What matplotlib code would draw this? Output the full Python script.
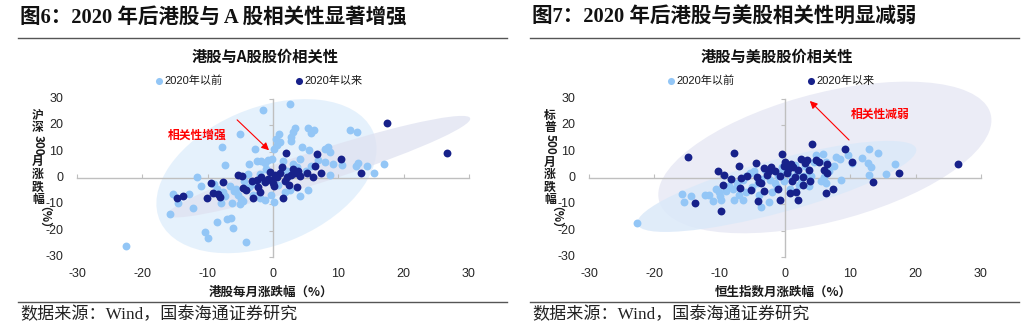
import re
import numpy as np
import matplotlib
matplotlib.use("Agg")
import matplotlib.pyplot as plt
from matplotlib.patches import Ellipse
from matplotlib.lines import Line2D

CJK = ['Noto Sans CJK SC', 'DejaVu Sans']
SERIF = ['Liberation Serif', 'Noto Sans CJK SC']
SANS = ['Liberation Sans', 'Noto Sans CJK SC']
plt.rcParams['font.family'] = CJK
plt.rcParams['axes.unicode_minus'] = False

# ==================================================
# 数据
# ==================================================
titles = ['图6：2020 年后港股与 A 股相关性显著增强', '图7：2020 年后港股与美股相关性明显减弱']
chart_titles = ['港股与A股股价相关性', '港股与美股股价相关性']
xlabels = ['港股每月涨跌幅（%）', '恒生指数月涨跌幅（%）']
ylabels = ['沪深300月涨跌幅（%）', '标普500月涨跌幅（%）']
legend_labels = ['2020年以前', '2020年以来']
notes = ['相关性增强', '相关性减弱']
source = '数据来源：Wind，国泰海通证券研究'
ticks = [-30, -20, -10, 0, 10, 20, 30]

# 图6 2020年以前
a_pre_x = [-22.5, -15.8, -15.3, -14.5, -12.2, -11.6, -10.4, -10.0, -8.6, -7.8, -7.3, -7.0, -6.5, -6.1,
           -8.0, -6.3, -5.0, -4.2, -3.6, -2.8, -1.6, -6.6, -6.0, -5.6, -5.3, -4.9, -4.6, -5.1, -2.5, -1.9,
           -1.2, -0.7, -0.2, -3.0, -2.0, -1.2, 0.6, 0.1, 0.4, 0.9, 1.1, 2.6, 2.7, 3.1, 3.4, 2.8, 5.4, 6.2,
           5.8, 4.4, 5.5, 7.9, 8.4, 8.7, 8.0, 9.2, 10.6, 12.7, 13.0, 14.4, 15.5, 17.0, 8.7, 11.8, 12.9,
           2.6, 4.1, 5.4, -0.3, 0.1, 3.0, 4.2, 5.8, 6.9, 2.2, 3.7, 5.0, 1.5, -3.9, -4.5, -3.2, -2.0, -1.4,
           -8.5, -7.7, -9.1, -11.0, -12.8, -1.0, 0.8, 1.8, -7.4, -3.6]
a_pre_y = [-25.9, -13.5, -6.1, -9.5, -11.3, 0.4, -20.5, -22.6, -16.8, 11.8, 4.9, -15.4, -15.0, -18.8,
           -9.5, -9.6, 16.6, -24.4, 5.3, 11.0, 25.9, -3.0, -4.8, -4.2, -6.5, -7.8, -8.8, -10.0, 6.5, 6.5,
           5.8, 6.8, 7.3, -6.5, -7.5, -8.4, 12.5, 11.0, 15.0, 16.8, 13.8, 28.1, 15.6, 17.5, 18.8, 14.2, 18.8, 18.3,
           17.2, 11.8, 10.8, 11.2, 11.8, 9.9, 6.1, 5.5, 5.0, 4.6, 5.7, 4.6, 1.9, 5.3, 1.1, 18.2, 17.4,
           -4.5, -6.9, -4.5, -6.5, -9.0, 5.5, 7.3, 4.4, 6.8, 2.8, 4.0, 2.5, 6.5, 1.5, -1.2, -2.2, 1.5, -1.0,
           -4.0, -5.2, -2.2, -3.0, -6.2, 3.5, -2.5, -5.5, -7.0, -3.5]
# 图6 2020年以来
a_post_x = [17.4, 26.6, -14.7, -13.8, -10.1, -9.5, -9.2, -8.4, -8.1, -7.6, -5.4, -4.8, -4.6, -4.2, -3.1,
            -2.5, -2.3, -2.0, -1.3, -0.5, -0.3, 0.0, 0.6, 1.0, 1.4, 1.5, 2.0, 2.2, 2.8, 3.4, 3.7, 3.9, 4.2,
            5.2, 6.1, 6.4, 6.7, 7.4, 10.4, 13.4, 0.3, -0.8, 1.8, 2.5, 0.2, -1.8, -3.2, 3.0]
a_post_y = [20.9, 9.5, -7.6, -6.8, -7.6, -1.9, -5.7, -6.1, -7.4, -1.5, 1.1, 0.6, -3.8, -4.6, -7.6,
            -0.8, -3.4, -5.3, -1.5, 2.3, -0.6, -2.0, 0.2, 2.0, 4.2, -7.6, 9.5, 0.3, 1.0, 1.8, -3.4, 2.6, 0.6,
            1.9, 0.4, 4.6, 9.3, 1.9, 7.4, 1.9, 1.0, -0.5, -1.0, -2.8, -3.2, 0.3, -1.0, 3.6]

# 图7 2020年以前
u_pre_x = [-22.6, -15.7, -15.4, -14.4, -12.3, -11.7, -10.1, -10.0, -9.8, -7.8, -6.5, -3.6, -2.5, -9.0,
           -8.6, -8.0, -7.3, -6.5, -5.9, -5.3, -4.8, -6.0, -5.0, -4.2, -3.6, -2.3, -1.6, -1.1, -0.6, -0.1,
           0.4, 1.0, 1.9, 2.4, 2.9, 3.6, 4.4, 4.8, 5.8, 6.3, 6.8, 5.5, 6.2, 7.8, 8.4, 9.6, 10.3, 11.8, 12.8,
           14.2, 12.7, 13.1, 12.8, 15.4, 16.9, -2.0, -1.2, 0.8, -4.0, -7.0, -11.0, -10.5, 3.0, 1.5, -0.5,
           2.2, 7.5, 6.0, -3.0, -8.2, 8.5, 4.0]
u_pre_y = [-17.0, -6.1, -9.0, -6.9, -6.5, -6.5, -5.3, -7.0, -8.4, -8.4, -8.4, -10.9, -9.3, -4.8,
           -3.2, -4.0, -2.0, -0.8, 0.6, 1.8, 2.6, -5.2, -3.6, -1.8, -0.5, -0.8, -1.8, 0.7, 1.8, -1.0,
           2.6, 0.4, 1.9, -0.5, 0.9, -3.0, 6.2, 8.8, 9.3, 6.2, 2.6, -1.2, -2.0, 8.1, 7.2, 8.8, 5.6, 7.5, 11.1,
           9.5, 5.7, 4.3, 1.1, 1.5, 5.4, -5.2, -3.5, -4.0, -6.5, -6.3, -8.6, -4.0, 4.5, 5.0, 4.0,
           -2.5, 4.5, 0.5, 3.0, -0.5, -0.8, 0.8]
# 图7 2020年以来
u_post_x = [-14.8, -13.7, -10.2, -9.8, -9.3, -9.5, -8.2, -7.8, -7.0, -6.9, -6.7, -5.2, -4.4, -4.3, -4.2,
            -4.0, -3.2, -3.2, -2.5, -2.2, -1.1, -0.7, -0.5, -0.2, 0.3, 0.7, 0.9, 1.2, 1.7, 2.0, 1.5, 2.4,
            3.0, 3.3, 3.6, 2.7, 3.9, 4.2, 5.2, 6.0, 6.3, 6.5, 6.4, 7.3, 9.2, 10.3, 13.4, 17.4, 26.5, -1.5,
            -0.8, 0.5, 2.0, -2.8, -5.8, 4.8, 1.0, -3.6, 0.0, 2.8]
u_post_y = [7.9, -9.6, 2.7, -12.4, 1.1, -2.7, -0.4, 9.4, 4.6, -3.9, -0.1, -4.6, 5.8, 0.3, -8.6,
            -1.4, -4.8, 3.7, 2.6, 4.2, -4.3, -8.4, 9.1, 4.5, 2.0, -5.8, 5.5, 4.0, -5.2, -8.4, 0.2, 7.1,
            5.6, 6.8, 3.0, -2.7, -1.2, 12.9, 6.2, 3.0, -5.8, 5.3, 1.8, -4.2, 10.9, 6.2, -1.4, 2.0, 5.3, 2.5,
            0.8, 3.5, 3.0, 1.0, 0.8, 7.0, -1.0, -2.0, 6.0, 0.5]

# 椭圆: (中心x, 中心y, Sxx, Syy, Sxy)
a_ell_pre = (-1.0, 0.7, 284, 856, 175)
a_ell_post = (7.0, 4.3, 538, 372, 422)
u_ell_pre = (-1.25, -3.2, 456, 299, 295)
u_ell_post = (6.1, 7.8, 650, 829, 360)

# 箭头 (起点, 终点) 与文字位置
a_arrow = ((-5.8, 22.8), (-0.3, 9.8))
a_note_xy = (-11.6, 16.3)
u_arrow = ((10.1, 13.7), (3.5, 30.0))
u_note_xy = (14.5, 24.4)

LIGHT = '#93c6f6'
DARK = '#17218a'
GRAY = '#bfbfbf'
W, H = 1024, 333


def cov_ellipse(p, **kw):
    cx, cy, sxx, syy, sxy = p
    vals, vecs = np.linalg.eigh(np.array([[sxx, sxy], [sxy, syy]]))
    ang = np.degrees(np.arctan2(vecs[1, 1], vecs[0, 1]))
    return Ellipse((cx, cy), 2 * np.sqrt(vals[1]), 2 * np.sqrt(vals[0]), angle=ang, **kw)


def vertical_label(fig, x_px, top_px, text, size=8.5):
    renderer = fig.canvas.get_renderer()
    cur = top_px
    for piece in re.findall(r'[0-9A-Za-z]+|（%）|.', text):
        if re.match(r'[0-9A-Za-z（]', piece):
            t = fig.text(0, 0, piece, rotation=270, fontsize=size, weight='bold',
                         ha='center', va='center', color='#1a1a1a')
            h = t.get_window_extent(renderer).height + 1
            t.set_position((x_px / W, 1 - (cur + h / 2) / H))
        else:
            h = 12.5
            fig.text(x_px / W, 1 - (cur + h / 2) / H, piece, fontsize=size, weight='bold',
                     ha='center', va='center', color='#1a1a1a')
        cur += h


fig = plt.figure(figsize=(W / 100, H / 100), dpi=100)

panels = [
    (a_pre_x, a_pre_y, a_post_x, a_post_y, [a_ell_pre, a_ell_post], a_arrow, a_note_xy, 0),
    (u_pre_x, u_pre_y, u_post_x, u_post_y, [u_ell_post, u_ell_pre], u_arrow, u_note_xy, 512),
]
ell_colors = {0: ['#e3f0fc', '#dfe2f1'], 512: ['#e9eaf5', '#dbe9f9']}
ell_alpha = {0: [0.9, 0.75], 512: [0.9, 0.85]}

for i, (px, py, qx, qy, ells, arrow, note_xy, off) in enumerate(panels):
    ax = fig.add_axes([(77 + off) / W, (H - 257) / H, 392 / W, 158 / H])
    ax.set_xlim(-30, 30)
    ax.set_ylim(-30, 30)
    for e, c, a in zip(ells, ell_colors[off], ell_alpha[off]):
        ax.add_patch(cov_ellipse(e, facecolor=c, edgecolor='none', alpha=a, zorder=1, clip_on=False))

    ax.scatter(px, py, s=32, color=LIGHT, linewidths=0, zorder=3, label=legend_labels[0])
    ax.scatter(qx, qy, s=32, color=DARK, linewidths=0, zorder=4, label=legend_labels[1])

    # 坐标轴穿过 0 点
    for s in ['top', 'right']:
        ax.spines[s].set_visible(False)
    for s in ['left', 'bottom']:
        ax.spines[s].set_position(('data', 0))
        ax.spines[s].set_color(GRAY)
        ax.spines[s].set_linewidth(1.0)
        ax.spines[s].set_zorder(2)
    ax.set_xticks(ticks)
    ax.set_yticks(ticks)
    ax.tick_params(axis='x', direction='in', length=3, color=GRAY, labelbottom=False)
    ax.tick_params(axis='y', direction='out', length=3, color=GRAY, labelleft=False)
    ax.patch.set_visible(False)
    for v in ticks:
        ax.annotate(str(v), xy=(v, 0), xycoords=ax.get_xaxis_transform(), xytext=(0, -8),
                    textcoords='offset points', ha='center', va='top', fontsize=9,
                    family=SANS, color='#262626')
        ax.annotate(str(v), xy=(0, v), xycoords=ax.get_yaxis_transform(), xytext=(-10, 0),
                    textcoords='offset points', ha='right', va='center', fontsize=9,
                    family=SANS, color='#262626')

    # 箭头与说明
    ax.annotate('', xy=arrow[1], xytext=arrow[0],
                arrowprops=dict(arrowstyle='-|>', color='#ff0000', lw=0.8, mutation_scale=11),
                zorder=6, annotation_clip=False)
    ax.text(note_xy[0], note_xy[1], notes[i], color='#ff0000', fontsize=8.5, weight='bold',
            ha='center', va='center', zorder=6)

    leg = ax.legend(loc='center', bbox_to_anchor=(0.465, 1 + 18 / 158), ncol=2, frameon=False,
                    handlelength=0.6, handletextpad=0.2, columnspacing=6.6, borderaxespad=0,
                    prop={'family': SANS, 'size': 8}, markerscale=0.9)
    for t in leg.get_texts():
        t.set_color('#1a1a1a')

    # 标题、副标题、坐标轴名称
    fig.text((20 + off) / W, 1 - 18 / H, titles[i], fontsize=14.8, weight='bold', family=SERIF,
             va='center', ha='left', color='#111111')
    fig.add_artist(Line2D([(18 + off) / W, (507 + off) / W], [1 - 38 / H] * 2, color='#555555', lw=1.0))
    fig.text((265 + off) / W, 1 - 57 / H, chart_titles[i], fontsize=11, weight='bold',
             ha='center', va='center', color='#111111')
    fig.text((271 + off) / W, 1 - 292 / H, xlabels[i], fontsize=9, weight='bold',
             ha='center', va='center', color='#1a1a1a')
    vertical_label(fig, 38 + off, 109, ylabels[i])
    fig.add_artist(Line2D([(18 + off) / W, (507 + off) / W], [1 - 302 / H] * 2, color='#555555', lw=1.0))
    fig.text((20 + off) / W, 1 - 315 / H, source, fontsize=12.3, family=SERIF,
             va='center', ha='left', color='#222222')

fig.savefig('out.png', dpi=100)
